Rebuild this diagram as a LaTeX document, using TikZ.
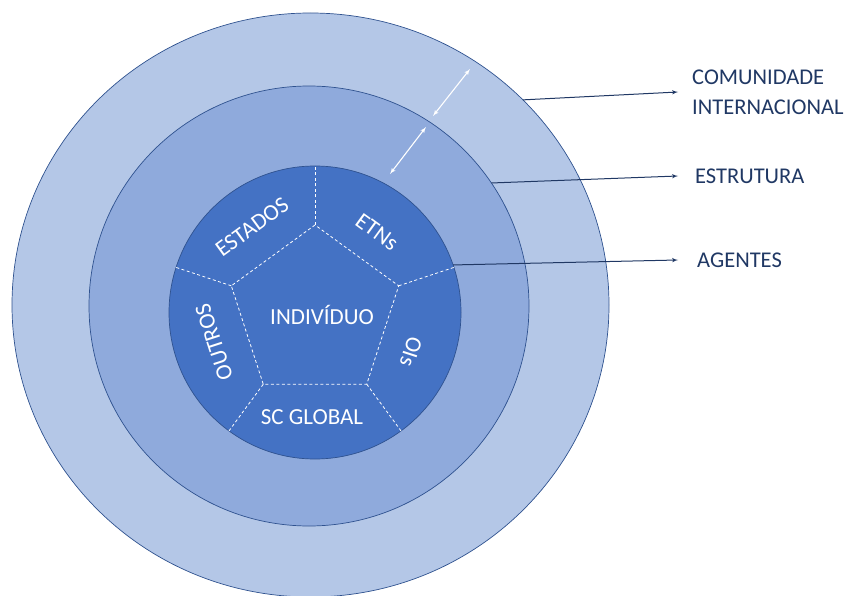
\documentclass[tikz,border=0pt]{standalone}
\usepackage{fontspec}
\setmainfont{Carlito}
\usetikzlibrary{arrows,positioning,shapes}

\definecolor{ringout}{HTML}{B4C7E7}
\definecolor{ringmid}{HTML}{8FAADC}
\definecolor{ringin}{HTML}{4472C4}
\definecolor{ringline}{HTML}{2F528F}
\definecolor{navy}{HTML}{203864}

\begin{document}
\begin{tikzpicture}[auto,>=latex',x=1pt,y=-1pt]
	\tikzstyle{ring} = [draw=ringline, line width=0.7pt, ellipse, inner sep=0pt, outer sep=0pt]
	\tikzstyle{slice} = [draw=white, line width=0.8pt, dash pattern=on 3pt off 2.5pt]
	\tikzstyle{tag} = [text=white, font=\fontsize{23}{27}\selectfont, inner sep=0pt]
	\tikzstyle{level} = [text=navy, font=\fontsize{22.5}{30}\selectfont, inner sep=0pt, align=left]
	\tikzstyle{pointer} = [->, draw=navy, line width=1pt]
	\tikzstyle{gap} = [<->, draw=white, line width=1.1pt]
	
	\useasboundingbox (0,0) rectangle (846,596);
	
	% three rings
	\node [ring, fill=ringout, minimum width=597pt, minimum height=584pt] (comunidade) at (310.5,305) {};
	\node [ring, fill=ringmid, minimum width=440pt, minimum height=440pt] (estrutura) at (309,306) {};
	\node [ring, fill=ringin, minimum width=292pt, minimum height=293pt] (agentes) at (315,312.5) {};
	
	% pentagon and the spokes out to the inner ring
	\node [slice, regular polygon, regular polygon sides=5, minimum size=176pt, inner sep=0pt, outer sep=0pt] (pent) at (315,313) {};
	\foreach \i/\a in {1/90,2/162,3/234,4/306,5/18}
		\draw [slice] (pent.corner \i) -- (agentes.\a);
	
	\node [tag] (individuo) at (322,315) {INDIVÍDUO};
	\node [tag, rotate=36] (estados) at (252,227) {ESTADOS};
	\node [tag, rotate=-36] (etns) at (377,232) {ETNs};
	\node [tag, rotate=-108] (ois) at (411,352) {OIs};
	\node [tag, rotate=108] (outros) at (214,342) {OUTROS};
	\node [tag] (scglobal) at (312,417) {SC GLOBAL};
	
	% interaction between the levels
	\coordinate (g1a) at (470,69);
	\coordinate (g1b) at (433,116);
	\coordinate (g2a) at (426,127);
	\coordinate (g2b) at (390,174);
	\draw [gap] (g1a) -- (g1b);
	\draw [gap] (g2a) -- (g2b);
	
	% legend on the right
	\node [coordinate] (comend) at (678,92) {};
	\node [coordinate] (estend) at (678,176) {};
	\node [coordinate] (ageend) at (678,260) {};
	
	\node [level, right = 14pt of comend] (comtxt) {COMUNIDADE\\INTERNACIONAL};
	\node [level, right = 17pt of estend] (esttxt) {ESTRUTURA};
	\node [level, right = 19pt of ageend] (agetxt) {AGENTES};
	
	\draw [pointer] (comunidade.44.7) -- (comend);
	\draw [pointer] (estrutura.34) -- (estend);
	\draw [pointer] (agentes.19) -- (ageend);
	
\end{tikzpicture}
\end{document}
